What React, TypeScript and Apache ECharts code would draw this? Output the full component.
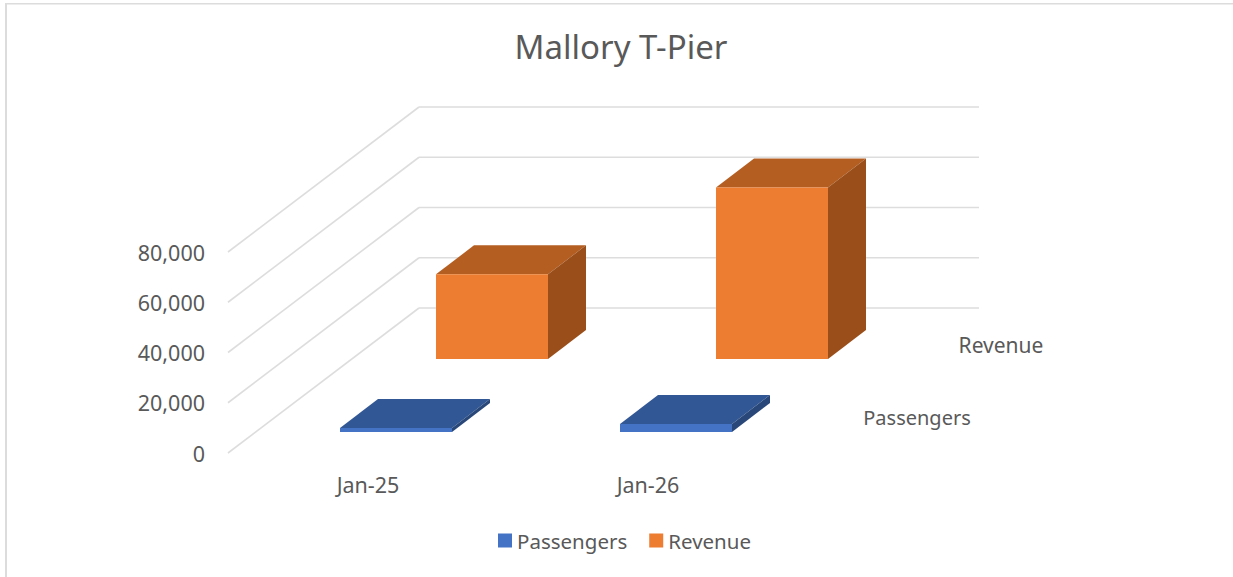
import React, { useEffect, useRef } from "react";
import * as echarts from "echarts";

const title = "Mallory T-Pier";
const categories = ["Jan-25", "Jan-26"];
const passengers = [1600, 3200];
const revenue = [33700, 68300];
const gridTicks = [0, 20000, 40000, 60000, 80000];
const seriesNames = ["Passengers", "Revenue"];

const FONT = "'Noto Sans'";
const TEXT = "#595959";
const WALL = "#DDDDDD";
const DEPTH_X = 191;
const DEPTH_Y = -145;
const BAR_DX = 38;
const BAR_DY = -29;

function wallItem(params: any, api: any) {
  const v = api.value(1);
  const [, y] = api.coord([0, v]);
  const x0 = params.coordSys.x;
  const w = params.coordSys.width;
  const style = { stroke: WALL, lineWidth: 1.6, fill: "none" };
  return {
    type: "group",
    children: [
      { type: "line", shape: { x1: x0, y1: y, x2: x0 + DEPTH_X, y2: y + DEPTH_Y }, style },
      { type: "line", shape: { x1: x0 + DEPTH_X, y1: y + DEPTH_Y, x2: x0 + DEPTH_X + w, y2: y + DEPTH_Y }, style },
    ],
  };
}

function barItem(dx: number, dy: number, front: string, top: string, side: string) {
  return (_params: any, api: any) => {
    const idx = api.value(0);
    const base = api.coord([idx, 0]);
    const head = api.coord([idx, api.value(1)]);
    const w = api.size([1, 0])[0] * 0.4;
    const l = base[0] + dx - w / 2;
    const r = l + w;
    const b = base[1] + dy;
    const t = head[1] + dy;
    return {
      type: "group",
      children: [
        { type: "polygon", shape: { points: [[l, t], [r, t], [r + BAR_DX, t + BAR_DY], [l + BAR_DX, t + BAR_DY]] }, style: { fill: top } },
        { type: "polygon", shape: { points: [[r, t], [r + BAR_DX, t + BAR_DY], [r + BAR_DX, b + BAR_DY], [r, b]] }, style: { fill: side } },
        { type: "rect", shape: { x: l, y: t, width: w, height: b - t }, style: { fill: front } },
      ],
    };
  };
}

export default function App() {
  const ref = useRef<HTMLDivElement>(null);
  useEffect(() => {
    const chart = echarts.init(ref.current!, null, { renderer: "svg" });
    chart.setOption({
      animation: false,
      backgroundColor: "#FFFFFF",
      title: {
        text: title,
        left: 616,
        top: 25,
        textAlign: "center",
        textStyle: { fontFamily: FONT, fontSize: 33, fontWeight: "normal", color: TEXT },
      },
      legend: {
        data: seriesNames,
        left: 493,
        top: 525,
        icon: "rect",
        itemWidth: 14,
        itemHeight: 14,
        itemGap: 22,
        textStyle: { fontFamily: FONT, fontSize: 20.5, color: TEXT },
      },
      grid: { left: 228, top: 252, width: 560, height: 201 },
      xAxis: {
        type: "category",
        data: categories,
        axisLine: { show: false },
        axisTick: { show: false },
        splitLine: { show: false },
        axisLabel: { fontFamily: FONT, fontSize: 21.5, color: TEXT, margin: 20 },
      },
      yAxis: {
        type: "value",
        min: 0,
        max: 80000,
        interval: 20000,
        axisLine: { show: false },
        axisTick: { show: false },
        splitLine: { show: false },
        axisLabel: {
          fontFamily: FONT,
          fontSize: 21.5,
          color: TEXT,
          margin: 23,
          formatter: (v: number) => v.toLocaleString("en-US"),
        },
      },
      graphic: [
        { type: "rect", shape: { x: 5, y: 3, width: 1228, height: 1.5 }, style: { fill: "#DCDCDC" }, silent: true },
        { type: "rect", shape: { x: 5, y: 3, width: 2, height: 574 }, style: { fill: "#DCDCDC" }, silent: true },
        { type: "text", x: 1001, y: 345, style: { text: seriesNames[1], fontFamily: FONT, fontSize: 21, fill: TEXT, align: "center", verticalAlign: "middle" } },
        { type: "text", x: 917, y: 417, style: { text: seriesNames[0], fontFamily: FONT, fontSize: 20, fill: TEXT, align: "center", verticalAlign: "middle" } },
      ],
      series: [
        {
          type: "custom",
          name: "walls",
          silent: true,
          z: 1,
          encode: { x: 0, y: 1 },
          data: gridTicks.map((t) => [0, t]),
          renderItem: wallItem,
        },
        {
          type: "custom",
          name: seriesNames[1],
          z: 2,
          itemStyle: { color: "#ED7D31" },
          encode: { x: 0, y: 1 },
          data: revenue.map((v, i) => [i, v]),
          renderItem: barItem(124, -94, "#ED7D31", "#B55E22", "#9A4F1B"),
        },
        {
          type: "custom",
          name: seriesNames[0],
          z: 3,
          itemStyle: { color: "#4472C4" },
          encode: { x: 0, y: 1 },
          data: passengers.map((v, i) => [i, v]),
          renderItem: barItem(28, -21, "#4472C4", "#325795", "#294879"),
        },
      ],
    });
    return () => chart.dispose();
  }, []);
  return <div ref={ref} style={{ position: "fixed", left: 0, top: 0, width: 1233, height: 577 }} />;
}
